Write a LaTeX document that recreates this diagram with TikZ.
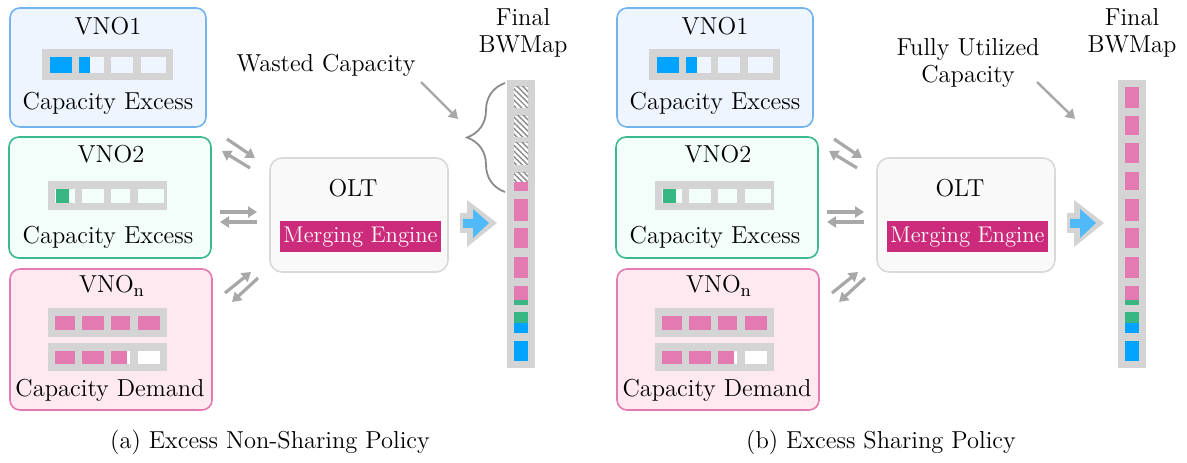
\documentclass[tikz,border=0pt]{standalone}
\usetikzlibrary{arrows.meta,fit,decorations.pathreplacing,patterns.meta}
\definecolor{bluedraw}{HTML}{72B4F0}
\definecolor{bluefill}{HTML}{EEF5FF}
\definecolor{greendraw}{HTML}{3DBA8C}
\definecolor{greenfill}{HTML}{F3FEFA}
\definecolor{pinkdraw}{HTML}{E47AAF}
\definecolor{pinkfill}{HTML}{FDE9EF}
\definecolor{slotblue}{HTML}{00A3FF}
\definecolor{slotgreen}{HTML}{38B784}
\definecolor{slotpink}{HTML}{E37AB1}
\definecolor{bargray}{HTML}{D4D4D4}
\definecolor{oltfill}{HTML}{F9F9F9}
\definecolor{oltdraw}{HTML}{D9D9D9}
\definecolor{engine}{HTML}{CC2A7A}
\definecolor{arrgray}{HTML}{A8A8A8}
\definecolor{bracegray}{HTML}{8C8C8C}
\definecolor{bigblue}{HTML}{50BAF8}
\definecolor{hatchgray}{HTML}{8A8A8A}
\tikzset{
  vnobox/.style={rounded corners=5bp, line width=0.8bp, inner sep=0pt},
  oltbox/.style={rounded corners=6bp, line width=0.8bp, inner sep=0pt, draw=oltdraw, fill=oltfill},
  lbl/.style={font=\fontsize{12.3}{14}\selectfont, inner sep=0pt, anchor=base},
  flow/.style={draw=arrgray, line width=1.6bp, -{Triangle[length=4.5bp,width=5.5bp]}},
  hatch/.style={pattern={Lines[angle=-45,distance=2bp,line width=0.7bp]}, pattern color=hatchgray},
}
\newcommand\mypanel[1]{%
  % VNO1
  \node[vnobox, draw=bluedraw, fill=bluefill, fit={(10,8)(206,127)}] (vnoa#1) {};
  \node[lbl] (vnoat#1) at (108,35) {VNO1};
  \fill[bargray] (42,49) rectangle (173,80);
  \fill[slotblue] (50,57) rectangle (72,73);
  \fill[bluefill] (79,57) rectangle (104,73);
  \fill[slotblue] (79,57) rectangle (90,73);
  \fill[bluefill] (111,57) rectangle (133,73);
  \fill[bluefill] (141,57) rectangle (166,73);
  \node[lbl] (vnoac#1) at (108,110) {Capacity Excess};
  % VNO2
  \node[vnobox, draw=greendraw, fill=greenfill, fit={(9,137)(211,258)}] (vnob#1) {};
  \node[lbl] (vnobt#1) at (111,163) {VNO2};
  \fill[bargray] (48,181) rectangle (167,210);
  \fill[greenfill] (55,189) rectangle (75,203);
  \fill[slotgreen] (56,189) rectangle (69,203);
  \fill[greenfill] (82,189) rectangle (104,203);
  \fill[greenfill] (111,189) rectangle (130,203);
  \fill[greenfill] (138,189) rectangle (164,203);
  \node[lbl] (vnobc#1) at (108,244) {Capacity Excess};
  % VNOn
  \node[vnobox, draw=pinkdraw, fill=pinkfill, fit={(10,269)(212,410)}] (vnon#1) {};
  \node[lbl] (vnont#1) at (112,293) {VNO$_{\mathrm{n}}$};
  \fill[bargray] (48,308) rectangle (167,337);
  \fill[slotpink] (55,316) rectangle (75,330);
  \fill[slotpink] (82,316) rectangle (104,330);
  \fill[slotpink] (111,316) rectangle (130,330);
  \fill[slotpink] (138,316) rectangle (160,330);
  \fill[bargray] (48,343) rectangle (167,371);
  \fill[slotpink] (55,351) rectangle (75,364);
  \fill[slotpink] (82,351) rectangle (104,364);
  \fill[white] (111,351) rectangle (130,364);
  \fill[slotpink] (111,351) rectangle (127,364);
  \fill[white] (138,351) rectangle (160,364);
  \node[lbl] (vnonc#1) at (110,397) {Capacity Demand};
  % OLT
  \node[oltbox, fit={(270,158)(448,272)}] (olt#1) {};
  \node[lbl] (oltt#1) at (353,197) {OLT};
  \node[fill=engine, minimum width=80.5bp, minimum height=15.5bp, inner sep=0pt] (eng#1) at (360.5,236.5) {};
  \node[lbl, text=white, font=\fontsize{11.4}{13}\selectfont] (engt#1) at (360.5,243) {Merging Engine};
  % connectors
  \coordinate (ta#1) at (227,139); \coordinate (tb#1) at (255,158);
  \coordinate (tc#1) at (250,168); \coordinate (td#1) at (222,151);
  \draw[flow] (ta#1) -- (tb#1);
  \draw[flow] (tc#1) -- (td#1);
  \coordinate (ma#1) at (220,212); \coordinate (mb#1) at (257,212);
  \coordinate (mc#1) at (257,222); \coordinate (md#1) at (220,222);
  \draw[flow] (ma#1) -- (mb#1);
  \draw[flow] (mc#1) -- (md#1);
  \coordinate (ba#1) at (225,293); \coordinate (bb#1) at (251,272);
  \coordinate (bc#1) at (258,278); \coordinate (bd#1) at (232,302);
  \draw[flow] (ba#1) -- (bb#1);
  \draw[flow] (bc#1) -- (bd#1);
  % big arrow
  \fill[bargray] (460,213) -- (467,213) -- (467,200) -- (497,223) -- (467,247) -- (467,233) -- (460,233) -- cycle;
  \fill[bigblue] (463,219) -- (473,219) -- (473,209) -- (489,223) -- (473,238) -- (473,228) -- (463,228) -- cycle;
}
\newcommand\bwbar[1]{%
  \fill[bargray] (#1-7,80) rectangle (#1+21,368);
  \fill[slotpink] (#1,199) rectangle (#1+14,221);
  \fill[slotpink] (#1,228) rectangle (#1+14,248);
  \fill[slotpink] (#1,257) rectangle (#1+14,278);
  \fill[slotpink] (#1,286) rectangle (#1+14,300);
  \fill[slotgreen] (#1,300) rectangle (#1+14,305);
  \fill[slotgreen] (#1,312) rectangle (#1+14,323);
  \fill[slotblue] (#1,323) rectangle (#1+14,333);
  \fill[slotblue] (#1,341) rectangle (#1+14,361);
}
\begin{document}
\begin{tikzpicture}[x=0.5bp,y=-0.5bp]
\useasboundingbox[fill=white] (0,0) rectangle (1187,463);
% left panel
\mypanel{L}
\bwbar{514}
\fill[white] (514,87) rectangle (528,108);
\fill[hatch] (514,87) rectangle (528,108);
\fill[white] (514,116) rectangle (528,137);
\fill[hatch] (514,116) rectangle (528,137);
\fill[white] (514,143) rectangle (528,165);
\fill[hatch] (514,143) rectangle (528,165);
\fill[white] (514,173) rectangle (528,182);
\fill[hatch] (514,173) rectangle (528,182);
\fill[slotpink] (514,182) rectangle (528,191);
\coordinate (brb) at (505,192);
\coordinate (brt) at (505,83);
\draw[bracegray, line width=0.9bp, decorate, decoration={brace, amplitude=19bp}] (brb) -- (brt);
\node[lbl] (wasted) at (326,72) {Wasted Capacity};
\coordinate (wa) at (421,82);
\coordinate (wb) at (458,119);
\draw[flow, line width=1.2bp] (wa) -- (wb);
\node[lbl] (finalL) at (523,26) {Final};
\node[lbl] (bwmapL) at (523,53) {BWMap};
\node[lbl] (capL) at (270,448) {(a) Excess Non-Sharing Policy};
% right panel
\begin{scope}[xshift=303.5bp]
\mypanel{R}
\end{scope}
\bwbar{1125}
\fill[slotpink] (1125,87) rectangle (1139,108);
\fill[slotpink] (1125,116) rectangle (1139,135);
\fill[slotpink] (1125,143) rectangle (1139,163);
\fill[slotpink] (1125,172) rectangle (1139,190);
\node[lbl] (fully) at (968,56) {Fully Utilized};
\node[lbl] (fcap) at (968,83) {Capacity};
\coordinate (fa) at (1037,82);
\coordinate (fb) at (1075,119);
\draw[flow, line width=1.2bp] (fa) -- (fb);
\node[lbl] (finalR) at (1132,26) {Final};
\node[lbl] (bwmapR) at (1132,53) {BWMap};
\node[lbl] (capR) at (881,448) {(b) Excess Sharing Policy};
\end{tikzpicture}
\end{document}
